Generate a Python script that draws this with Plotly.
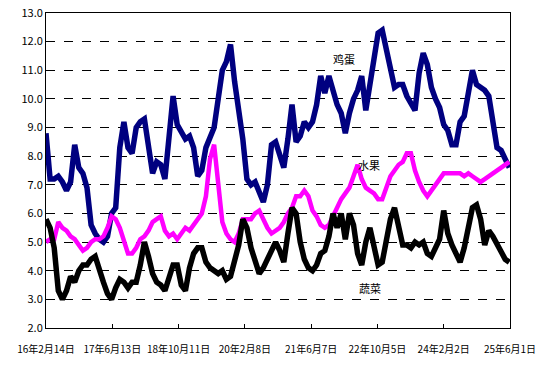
import pandas as pd
import plotly.graph_objects as go

# Sample dates (every 30 days from 2016-02-14)
dates = pd.date_range("2016-02-14", periods=114, freq="30D")

egg = [8.8, 7.2, 7.2, 7.3, 7.1, 6.8, 7.1, 8.4, 7.6, 7.4,
       6.9, 5.6, 5.3, 5.1, 5.0, 5.2, 6.0, 6.2, 8.3, 9.2,
       8.3, 8.1, 9.0, 9.2, 9.3, 8.2, 7.4, 7.8, 7.7, 7.2,
       8.5, 10.1, 9.1, 8.8, 8.6, 8.7, 8.3, 7.3, 7.5, 8.3,
       8.6, 9.0, 10.0, 11.0, 11.3, 11.9, 10.6, 9.6, 8.6, 7.2,
       7.0, 7.1, 6.7, 6.4, 7.0, 8.4, 8.5, 8.1, 7.6, 8.6,
       9.8, 8.5, 8.7, 9.2, 9.0, 9.2, 9.8, 10.8, 10.2, 10.8,
       10.3, 9.8, 9.5, 8.8, 9.5, 10.0, 10.3, 10.8, 9.6, 10.5,
       11.4, 12.3, 12.4, 11.8, 11.0, 10.4, 10.5, 10.5, 10.1, 9.8,
       9.6, 10.9, 11.6, 11.2, 10.4, 10.0, 9.7, 9.1, 8.9, 8.4,
       8.4, 9.2, 9.4, 10.2, 11.0, 10.5, 10.4, 10.3, 10.1, 9.3,
       8.3, 8.2, 7.9, 7.6]

fruit = [5.0, 5.1, 5.1, 5.7, 5.5, 5.4, 5.2, 5.1, 4.9, 4.7,
         4.8, 5.0, 5.1, 5.1, 5.2, 5.5, 5.9, 5.8, 5.5, 5.0,
         4.6, 4.6, 4.8, 5.1, 5.2, 5.4, 5.7, 5.8, 5.9, 5.4,
         5.2, 5.3, 5.1, 5.3, 5.5, 5.4, 5.6, 5.8, 6.0, 6.6,
         7.9, 8.4, 7.0, 5.7, 5.3, 5.1, 5.0, 5.3, 5.8, 5.8,
         5.8, 6.0, 6.1, 5.8, 5.5, 5.3, 5.4, 5.5, 5.7, 6.0,
         6.2, 6.6, 6.6, 6.8, 6.6, 6.1, 5.9, 5.6, 5.5, 5.6,
         5.9, 6.2, 6.5, 6.7, 6.9, 7.3, 7.7, 7.2, 6.9, 6.8,
         6.7, 6.5, 6.5, 6.9, 7.3, 7.5, 7.7, 7.8, 8.1, 8.1,
         7.5, 7.1, 6.8, 6.6, 6.8, 7.0, 7.2, 7.4, 7.4, 7.4,
         7.4, 7.4, 7.3, 7.4, 7.3, 7.2, 7.1, 7.2, 7.3, 7.4,
         7.5, 7.6, 7.7, 7.8]

veg = [5.8, 5.5, 4.8, 3.3, 3.0, 3.3, 3.8, 3.6, 4.0, 4.2,
       4.2, 4.4, 4.5, 4.0, 3.6, 3.2, 3.0, 3.4, 3.7, 3.6,
       3.4, 3.6, 3.6, 4.2, 5.0, 4.5, 3.9, 3.6, 3.5, 3.3,
       3.8, 4.2, 4.2, 3.5, 3.3, 4.1, 4.6, 4.8, 4.8, 4.3,
       4.1, 4.0, 3.9, 4.0, 3.7, 3.8, 4.4, 4.9, 5.8, 5.5,
       4.8, 4.4, 3.9, 4.1, 4.4, 4.8, 5.0, 4.7, 4.3, 5.3,
       6.2, 6.0, 5.0, 4.4, 4.1, 4.0, 4.2, 4.6, 4.7, 5.2,
       6.0, 5.5, 6.0, 5.1, 6.0, 5.6, 4.6, 4.2, 5.0, 5.5,
       4.8, 4.2, 4.3, 5.1, 5.8, 6.2, 5.6, 4.9, 4.9, 4.8,
       5.0, 4.9, 5.0, 4.6, 4.5, 4.8, 5.1, 6.1, 5.3, 4.9,
       4.6, 4.3, 4.8, 5.6, 6.2, 6.3, 5.8, 4.9, 5.4, 5.2,
       4.9, 4.7, 4.4, 4.3]

tick_dates = ["2016-02-14", "2017-06-13", "2018-10-11", "2020-02-08",
              "2021-06-07", "2022-10-05", "2024-02-02", "2025-06-01"]
tick_labels = ["16年2月14日", "17年6月13日", "18年10月11日", "20年2月8日",
               "21年6月7日", "22年10月5日", "24年2月2日", "25年6月1日"]
y_ticks = [2, 3, 4, 5, 6, 7, 8, 9, 10, 11, 12, 13]

FONT = "Liberation Sans Narrow, Arial Narrow, Noto Sans CJK SC, sans-serif"

fig = go.Figure()
fig.add_trace(go.Scatter(x=dates, y=egg, mode="lines", name="鸡蛋",
                         line=dict(color="#000080", width=5.5)))
fig.add_trace(go.Scatter(x=dates, y=fruit, mode="lines", name="水果",
                         line=dict(color="#FF00FF", width=4.5)))
fig.add_trace(go.Scatter(x=dates, y=veg, mode="lines", name="蔬菜",
                         line=dict(color="#000000", width=5.5)))

for txt, xp, yv in [("鸡蛋", 0.670, 11.39), ("水果", 0.724, 7.69), ("蔬菜", 0.726, 3.41)]:
    fig.add_annotation(x=xp, xref="paper", y=yv, yref="y", text=txt,
                       showarrow=False, font=dict(size=11, color="black",
                                                  family="Noto Sans CJK SC"))

fig.update_layout(
    width=540, height=366,
    margin=dict(l=46, r=30, t=4, b=38),
    paper_bgcolor="white", plot_bgcolor="white",
    showlegend=False,
    font=dict(family=FONT, size=11, color="black"),
    xaxis=dict(
        type="date",
        range=["2016-02-14", "2025-06-01"],
        tickvals=tick_dates, ticktext=tick_labels,
        tickangle=0,
        ticks="inside", ticklen=4, tickcolor="black",
        ticklabelstandoff=12, ticklabeloverflow="allow",
        showgrid=False, showline=True, linecolor="black", linewidth=1,
        mirror=True, zeroline=False,
        tickfont=dict(size=10),
    ),
    yaxis=dict(
        range=[2, 13], tickvals=y_ticks,
        ticktext=[f"{v:.1f}" for v in y_ticks],
        ticks="", showline=True, linecolor="black", linewidth=1,
        mirror=True, zeroline=False, ticklabeloverflow="allow",
        showgrid=True, gridcolor="black", gridwidth=1, griddash="dash",
        tickfont=dict(size=11),
    ),
)

fig.write_html("out.html", config={"displayModeBar": False},
               post_script="document.body.style.margin='0';document.body.style.padding='0';")
